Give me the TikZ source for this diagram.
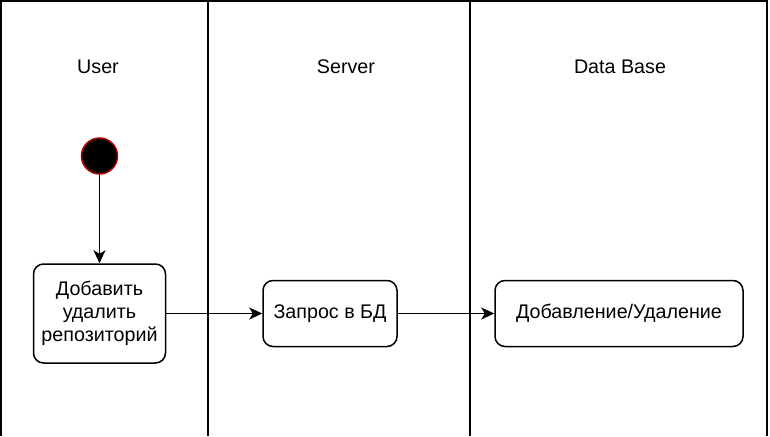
\documentclass[tikz,border=0pt]{standalone}
\usepackage{fontspec}
\setmainfont{Liberation Sans}
\usetikzlibrary{arrows.meta}
\usetikzlibrary{positioning}
\tikzset{
    lane/.style={line width=1.5pt},
    action/.style={draw, line width=1.5pt, rounded corners=10pt, align=center,
        minimum height=66pt, inner sep=0pt},
    start/.style={circle, fill=black, draw=red!70!black, line width=1.5pt,
        minimum size=36pt, inner sep=0pt},
    flow/.style={-{Stealth[length=13pt, width=12pt, inset=3.5pt]}, line width=1.5pt},
}

\begin{document}
\begin{tikzpicture}[x=1pt, y=-1pt]
    \fontsize{19.7}{23.3}\selectfont
    \useasboundingbox (0,0) rectangle (770,436);

    % swim lanes
    \draw[lane] (1,436) -- (1,1) -- (767,1) -- (767,436);
    \foreach \X in {208,470}{
        \draw[lane] (\X,1) -- (\X,436);
    }

    \node (user)   at (98,67)  {User};
    \node (server) at (346,67) {Server};
    \node (db)     at (620,67) {Data Base};

    % activity
    \node[start] (init) at (99.5,156) {};
    \node[action, minimum width=132pt, minimum height=99pt] (ask) at (99.5,313.5)
        {Добавить\\удалить\\репозиторий};
    \node[action, minimum width=134pt] (query) at (330,313.5) {Запрос в БД};
    \node[action, minimum width=248pt] (change) at (619,313.5) {Добавление/Удаление};

    \draw[flow] (init) -- (ask);
    \draw[flow] (ask) -- (query);
    \draw[flow] (query) -- (change);

\end{tikzpicture}
\end{document}
